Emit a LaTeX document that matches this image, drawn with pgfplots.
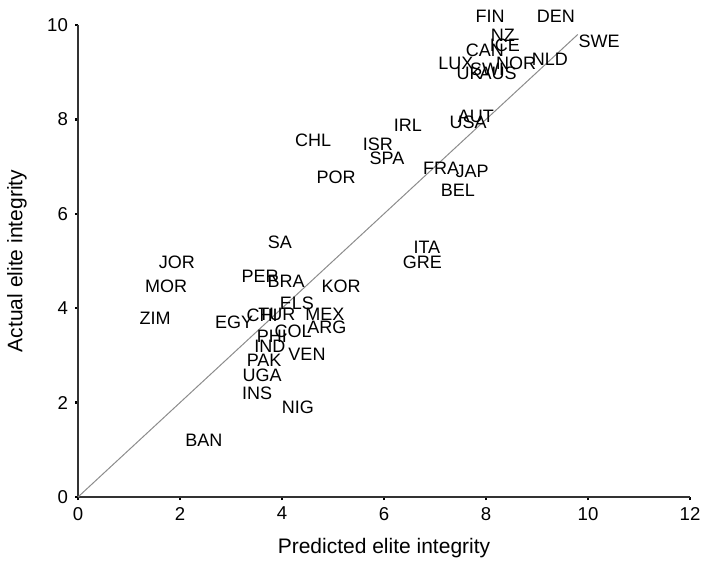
\documentclass[border=0pt]{standalone}
\usepackage{fontspec}
\setmainfont{Liberation Sans}
\usepackage{pgfplots}
\pgfplotsset{compat=1.18}

\pgfplotstableread{
x y name
8.08 10.19 FIN
9.37 10.19 DEN
10.22 9.66 SWE
8.33 9.79 NZ
8.37 9.58 ICE
7.98 9.47 CAN
9.25 9.28 NLD
8.59 9.19 NOR
7.41 9.19 LUX
8.02 9.07 SWI
7.67 8.98 UK
8.24 8.98 AUS
7.80 8.07 AUT
7.65 7.94 USA
6.47 7.88 IRL
4.61 7.56 CHL
5.88 7.48 ISR
6.06 7.18 SPA
7.12 6.97 FRA
7.73 6.89 JAP
5.06 6.78 POR
7.45 6.50 BEL
3.96 5.40 SA
6.84 5.30 ITA
6.75 4.98 GRE
1.94 4.98 JOR
3.57 4.68 PER
4.08 4.58 BRA
1.73 4.47 MOR
5.16 4.47 KOR
4.29 4.11 ELS
1.51 3.79 ZIM
4.84 3.88 MEX
3.61 3.86 CHI
3.90 3.86 TUR
3.06 3.71 EGY
4.88 3.60 ARG
4.22 3.50 COL
3.80 3.41 PHI
3.76 3.20 IND
4.49 3.03 VEN
3.65 2.90 PAK
3.61 2.58 UGA
3.51 2.20 INS
4.31 1.91 NIG
2.47 1.21 BAN
}\countries

\begin{document}
\begin{tikzpicture}
\begin{axis}[
    name=ax,
    scale only axis,
    width=306pt,
    height=236pt,
    xmin=0, xmax=12,
    ymin=0, ymax=10,
    xtick={0,2,...,12},
    ytick={0,2,...,10},
    axis x line*=bottom,
    axis y line*=left,
    axis line style={black!80, line width=0.9pt},
    tick align=outside,
    major tick length=1.5pt,
    tick style={black, line width=1.2pt},
    ticklabel style={font=\fontsize{9.3}{10}\selectfont},
    /pgf/number format/assume math mode=true,
    xlabel={Predicted elite integrity},
    ylabel={Actual elite integrity},
    label style={font=\fontsize{10.5}{12}\selectfont},
    xlabel style={at={(axis description cs:0.5,-0.108)}, anchor=center},
    ylabel style={at={(axis description cs:-0.0997,0.5)}, anchor=center},
    clip=false,
]
\addplot[gray!90, line width=0.5pt] coordinates {(0,0) (9.8,9.8)};
\addplot[only marks, mark=*, mark size=0pt, mark options={draw=none, fill=none},
    nodes near coords, point meta=explicit symbolic,
    nodes near coords align=center,
    every node near coord/.append style={anchor=center, inner sep=0pt,
        font=\fontsize{9}{10}\selectfont, text=black}]
    table[x=x, y=y, meta=name] {\countries};
\end{axis}
% frame the page like the reference: room for labels around the axis box
\pgfresetboundingbox
\path ([xshift=-39pt,yshift=-35pt]ax.south west) rectangle ([xshift=7pt,yshift=12.5pt]ax.north east);
\end{tikzpicture}
\end{document}
